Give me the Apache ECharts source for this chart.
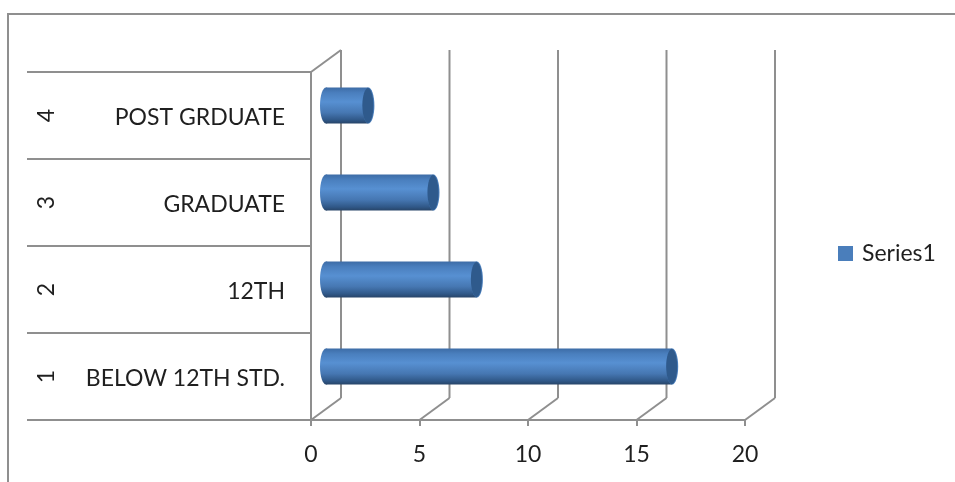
<!DOCTYPE html>
<html>
<head>
<meta charset="utf-8">
<style>html,body{margin:0;padding:0;background:#fff}#chart{width:955px;height:482px}</style>
<script src="https://cdn.jsdelivr.net/npm/echarts@6/dist/echarts.min.js"></script>
</head>
<body>
<div id="chart"></div>
<script>
// Education level counts, bottom row first
const categoryNumbers = ['1', '2', '3', '4'];
const categoryNames = ['BELOW 12TH STD.', '12TH', 'GRADUATE', 'POST GRDUATE'];
const seriesValues = [16, 7, 5, 2];
const axisTicks = [0, 5, 10, 15, 20];

const GREY = '#8f8f8f';
const TEXT = '#1f1f1f';
const FONT = 'Lato, Carlito, sans-serif';
const FONT_SIZE = 23;
// Oblique offset of the back wall, in pixels
const DEPTH_X = 30;
const DEPTH_Y = 22;

const chart = echarts.init(document.getElementById('chart'), null, { renderer: 'canvas' });

// Back wall: an oblique floor line and an upright line for every value tick
function renderWall(params, api) {
  const sys = params.coordSys;
  const x = api.coord([api.value(0), 0])[0];
  const floor = sys.y + sys.height;
  const style = { stroke: GREY, lineWidth: 2, fill: null };
  const backX = x + DEPTH_X;
  const children = [
    { type: 'line', shape: { x1: x, y1: floor, x2: backX, y2: floor - DEPTH_Y }, style },
    { type: 'line', shape: { x1: backX, y1: floor - DEPTH_Y, x2: backX, y2: sys.y - DEPTH_Y }, style }
  ];
  if (api.value(0) === 0) {
    children.push({ type: 'line', shape: { x1: x, y1: sys.y, x2: backX, y2: sys.y - DEPTH_Y }, style });
  }
  return { type: 'group', children };
}

// Horizontal cylinder standing halfway between the front plane and the back wall
function renderCylinder(params, api) {
  const band = api.size([0, 1])[1];
  const end = api.coord([api.value(0), api.value(1)]);
  const start = api.coord([0, api.value(1)]);
  const x0 = start[0] + DEPTH_X / 2;
  const x1 = end[0] + DEPTH_X / 2 - 1;
  const cy = end[1] - 10;
  const ry = band * 0.207;
  const rx = 6;
  const body = {
    type: 'linear', x: 0, y: 0, x2: 0, y2: 1,
    colorStops: [
      { offset: 0, color: '#3d6ca6' },
      { offset: 0.15, color: '#4a7fbe' },
      { offset: 0.4, color: '#5790d2' },
      { offset: 0.7, color: '#4677b2' },
      { offset: 0.9, color: '#305888' },
      { offset: 1, color: '#274468' }
    ]
  };
  return {
    type: 'group',
    children: [
      { type: 'ellipse', shape: { cx: x0, cy, rx, ry }, style: { fill: body } },
      { type: 'rect', shape: { x: x0, y: cy - ry, width: x1 - x0, height: ry * 2 }, style: { fill: body } },
      { type: 'ellipse', shape: { cx: x1, cy, rx, ry }, style: { fill: '#4a7ebb' } },
      { type: 'ellipse', shape: { cx: x1 - 0.5, cy, rx: rx - 0.5, ry: ry - 0.5 }, style: { fill: '#2f5a8c' } }
    ]
  };
}

chart.setOption({
  animation: false,
  backgroundColor: '#fff',
  grid: { left: 311, top: 72, width: 434, height: 348, containLabel: false },
  legend: {
    data: ['Series1'],
    left: 838,
    top: 242,
    itemWidth: 15,
    itemHeight: 15,
    itemGap: 0,
    icon: 'rect',
    padding: 0,
    textStyle: { fontFamily: FONT, fontSize: FONT_SIZE, color: TEXT, padding: [0, 0, 0, 4] }
  },
  xAxis: {
    type: 'value',
    min: axisTicks[0],
    max: axisTicks[axisTicks.length - 1],
    interval: 5,
    splitLine: { show: false },
    axisLine: { show: true, onZero: false, lineStyle: { color: GREY, width: 2 } },
    axisTick: { show: true, length: 6, lineStyle: { color: GREY, width: 2 } },
    axisLabel: { fontFamily: FONT, fontSize: FONT_SIZE, color: TEXT, margin: 23 }
  },
  yAxis: [
    {
      type: 'category',
      data: categoryNames,
      position: 'left',
      axisLine: { show: true, onZero: false, lineStyle: { color: GREY, width: 2 } },
      axisTick: { show: true, length: 284, lineStyle: { color: GREY, width: 2 } },
      axisLabel: {
        margin: 26,
        align: 'right',
        formatter: value => '{name|' + value + '}',
        rich: {
          name: {
            fontFamily: FONT, fontSize: FONT_SIZE, color: TEXT,
            padding: [5, 0, 0, 0]
          }
        }
      }
    },
    {
      type: 'category',
      data: categoryNumbers,
      position: 'left',
      axisLine: { show: false },
      axisTick: { show: false },
      axisLabel: {
        fontFamily: FONT, fontSize: FONT_SIZE, color: TEXT,
        rotate: 90, margin: 264, align: 'center', verticalAlign: 'middle'
      }
    }
  ],
  graphic: [
    {
      type: 'polyline',
      silent: true,
      shape: { points: [[8, 482], [8, 14], [955, 14]] },
      style: { stroke: GREY, lineWidth: 2, fill: null }
    }
  ],
  series: [
    {
      name: 'wall',
      type: 'custom',
      silent: true,
      z: 1,
      xAxisIndex: 0,
      yAxisIndex: 0,
      data: axisTicks.map(t => [t, 0]),
      encode: { x: 0, y: 1 },
      renderItem: renderWall
    },
    {
      name: 'Series1',
      type: 'custom',
      z: 3,
      xAxisIndex: 0,
      yAxisIndex: 0,
      itemStyle: { color: '#4a7ebb' },
      data: seriesValues.map((v, i) => [v, i]),
      encode: { x: 0, y: 1 },
      renderItem: renderCylinder
    }
  ]
});
</script>
</body>
</html>
